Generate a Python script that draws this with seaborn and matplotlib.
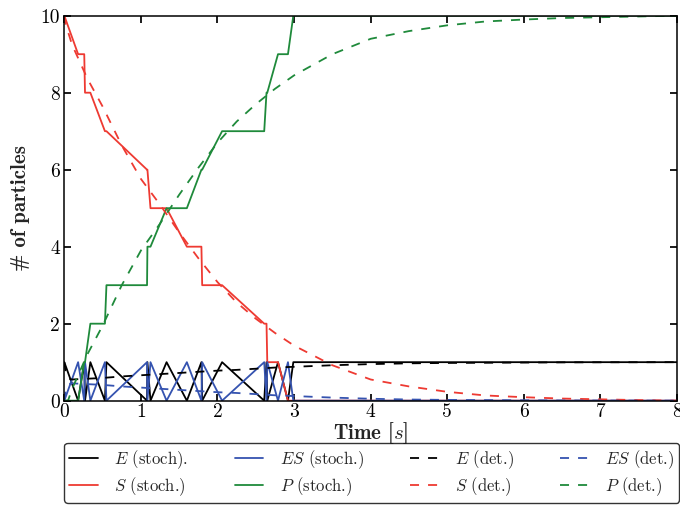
import numpy as np
import pandas as pd
import matplotlib
matplotlib.use("Agg")
import matplotlib.pyplot as plt
import seaborn as sns
from matplotlib.lines import Line2D

# ---------------- data ----------------
# stochastic trajectory (event times and copy numbers)
t_stoch = [0.00, 0.18, 0.26, 0.27, 0.34, 0.53, 0.55, 1.08, 1.085, 1.125, 1.335,
           1.60, 1.79, 1.80, 2.06, 2.61, 2.64, 2.65, 2.79, 2.92, 2.99, 8.0]
E_stoch = [1, 0, 1, 0, 1, 0, 1, 0, 1, 0, 1, 0, 1, 0, 1, 0, 1, 0, 1, 0, 1, 1]
ES_stoch = [0, 1, 0, 1, 0, 1, 0, 1, 0, 1, 0, 1, 0, 1, 0, 1, 0, 1, 0, 1, 0, 0]
S_stoch = [10, 9, 9, 8, 8, 7, 7, 6, 6, 5, 5, 4, 4, 3, 3, 2, 2, 1, 1, 0, 0, 0]
P_stoch = [0, 0, 1, 1, 2, 2, 3, 3, 4, 4, 5, 5, 6, 6, 7, 7, 8, 8, 9, 9, 10, 10]

# deterministic solution
t_det = [0.0, 0.02, 0.05, 0.1, 0.2, 0.3, 0.5, 0.75, 1.0, 1.25, 1.5, 1.75, 2.0,
         2.25, 2.5, 2.75, 3.0, 3.5, 4.0, 4.5, 5.0, 5.5, 6.0, 6.5, 7.0, 7.5, 8.0]
E_det = [1.0, 0.70, 0.58, 0.55, 0.56, 0.57, 0.59, 0.63, 0.66, 0.69, 0.72, 0.75,
         0.78, 0.80, 0.83, 0.86, 0.88, 0.92, 0.95, 0.97, 0.98, 0.985, 0.99,
         0.995, 0.997, 0.998, 1.0]
ES_det = [0.0, 0.30, 0.42, 0.45, 0.44, 0.43, 0.41, 0.37, 0.34, 0.31, 0.28, 0.25,
          0.22, 0.20, 0.17, 0.14, 0.12, 0.08, 0.05, 0.03, 0.02, 0.015, 0.01,
          0.005, 0.003, 0.002, 0.0]
S_det = [10.0, 9.70, 9.57, 9.25, 8.81, 8.37, 7.64, 6.63, 5.76, 5.09, 4.37, 3.70,
         3.08, 2.55, 2.13, 1.76, 1.43, 0.92, 0.55, 0.37, 0.23, 0.135, 0.09,
         0.055, 0.035, 0.015, 0.0]
P_det = [0.0, 0.0, 0.01, 0.3, 0.75, 1.2, 1.95, 3.0, 3.9, 4.6, 5.35, 6.05, 6.7,
         7.25, 7.7, 8.1, 8.45, 9.0, 9.4, 9.6, 9.75, 9.85, 9.9, 9.94, 9.96,
         9.98, 10.0]

x_ticks = [0, 1, 2, 3, 4, 5, 6, 7, 8]
x_ticklabels = ["0", "1", "2", "3", "4", "5", "6", "7", "8"]
y_ticks = [0, 2, 4, 6, 8, 10]
y_ticklabels = ["0", "2", "4", "6", "8", "10"]

labels = [r"$E$ (stoch).", r"$S$ (stoch.)", r"$ES$ (stoch.)", r"$P$ (stoch.)",
          r"$E$ (det.)", r"$S$ (det.)", r"$ES$ (det.)", r"$P$ (det.)"]

# ---------------- style ----------------
sns.set_theme(style="ticks")
plt.rcParams.update({
    "font.family": ["cmr10", "DejaVu Serif"],
    "mathtext.fontset": "cm",
    "axes.formatter.use_mathtext": True,
    "axes.unicode_minus": False,
    "axes.linewidth": 1.1,
    "axes.edgecolor": "black",
    "xtick.direction": "in",
    "ytick.direction": "in",
    "xtick.top": True,
    "ytick.right": True,
    "xtick.major.size": 5,
    "ytick.major.size": 5,
    "xtick.color": "black",
    "ytick.color": "black",
})

C_E = "#000000"
C_ES = "#3553b0"
C_S = "#ee3a32"
C_P = "#1f8a3b"
LW = 1.3
DASH = (0, (5, 5))

fig = plt.figure(figsize=(6.8, 5.18), dpi=100)
ax = fig.add_axes([0.0946, 0.2265, 0.901, 0.7432])

stoch = pd.DataFrame({"t": t_stoch, "E": E_stoch, "ES": ES_stoch,
                      "S": S_stoch, "P": P_stoch})
det = pd.DataFrame({"t": t_det, "E": E_det, "ES": ES_det,
                    "S": S_det, "P": P_det})

series = [("E", C_E), ("S", C_S), ("ES", C_ES), ("P", C_P)]
for name, col in series:
    sns.lineplot(data=stoch, x="t", y=name, color=col, lw=LW, ax=ax,
                 estimator=None, sort=False)
for name, col in series:
    sns.lineplot(data=det, x="t", y=name, color=col, lw=LW, ax=ax,
                 estimator=None, sort=False, linestyle=DASH)

ax.set_xlim(0, 8)
ax.set_ylim(0, 10)
ax.set_xticks(x_ticks)
ax.set_xticklabels(x_ticklabels, fontsize=14)
ax.set_yticks(y_ticks)
ax.set_yticklabels(y_ticklabels, fontsize=14)
ax.tick_params(axis="x", pad=2)
ax.tick_params(axis="y", pad=3)
ax.set_xlabel(r"Time [$s$]", fontsize=15, family="cmb10", labelpad=-1)
ax.set_ylabel(r"# of particles", fontsize=15, family="cmb10", labelpad=8)

handles = [
    Line2D([], [], color=C_E, lw=LW),
    Line2D([], [], color=C_S, lw=LW),
    Line2D([], [], color=C_ES, lw=LW),
    Line2D([], [], color=C_P, lw=LW),
    Line2D([], [], color=C_E, lw=LW, linestyle=DASH),
    Line2D([], [], color=C_S, lw=LW, linestyle=DASH),
    Line2D([], [], color=C_ES, lw=LW, linestyle=DASH),
    Line2D([], [], color=C_P, lw=LW, linestyle=DASH),
]
leg = ax.legend(handles, labels, ncol=4, loc="upper left",
                bbox_to_anchor=(0.0, -0.11, 1.003, 0.0), mode="expand",
                borderaxespad=0, fontsize=12, frameon=True, fancybox=True,
                handlelength=1.7, handletextpad=1.0, columnspacing=1.0,
                labelspacing=0.25, borderpad=0.3)
leg.get_frame().set_edgecolor("black")
leg.get_frame().set_linewidth(1.0)

fig.savefig("out.png", dpi=100)
